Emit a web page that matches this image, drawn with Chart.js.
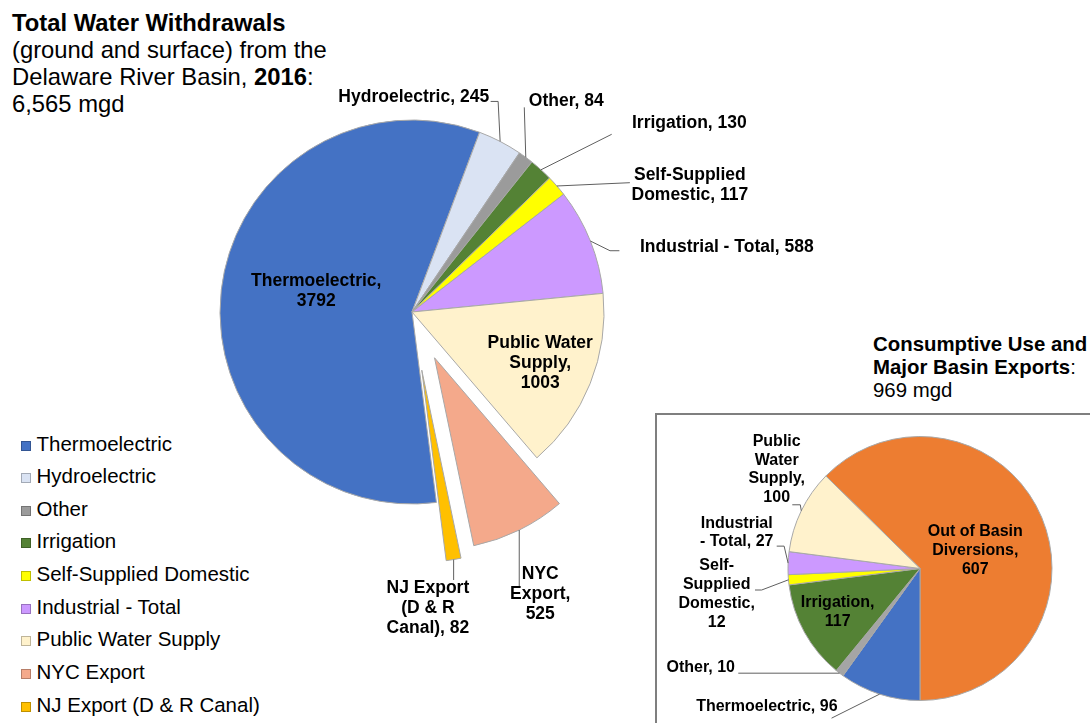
<!DOCTYPE html>
<html>
<head>
<meta charset="utf-8">
<script src="https://cdn.jsdelivr.net/npm/chart.js@4.4.1/dist/chart.umd.min.js"></script>
<style>
  html, body { margin: 0; padding: 0; background: #fff; }
  body { width: 1090px; height: 723px; position: relative; overflow: hidden;
         font-family: 'Liberation Sans', Arial, sans-serif; color: #000; }
  canvas { position: absolute; left: 0; top: 0; }
  .title { position: absolute; white-space: nowrap; }
  #title1 { left: 12px; top: 8.5px; font-size: 23.8px; line-height: 27.2px; }
  #title2 { left: 873px; top: 333px; font-size: 20.4px; line-height: 23px; }
  #box { position: absolute; left: 655px; top: 413px; width: 460px; height: 340px;
         border: 2px solid #7f7f7f; }
  #legend { position: absolute; left: 21px; top: 427.5px; font-size: 20.5px; line-height: 32.65px; white-space: nowrap; }
  #legend span { display: inline-block; width: 10px; height: 10px; box-sizing: border-box;
                 border: 1px solid rgba(0,0,0,0.25); margin-right: 5.5px; }
</style>
</head>
<body>
<div id="box"></div>
<div class="title" id="title1"><b>Total Water Withdrawals</b><br>(ground and surface) from the<br>Delaware River Basin, <b>2016</b>:<br>6,565 mgd</div>
<div class="title" id="title2"><b>Consumptive Use and<br>Major Basin Exports</b>:<br>969 mgd</div>
<div id="legend"></div>
<canvas id="withdrawals" width="1090" height="723"></canvas>
<canvas id="consumptive" width="1090" height="723"></canvas>
<script>
// total withdrawals, mgd
const categories = ['Thermoelectric', 'Hydroelectric', 'Other', 'Irrigation', 'Self-Supplied Domestic',
  'Industrial - Total', 'Public Water Supply', 'NYC Export', 'NJ Export (D & R Canal)'];
const withdrawals = [3792, 245, 84, 130, 117, 588, 1003, 525, 82];
const withdrawalColors = ['#4472C4', '#DAE3F3', '#9B9B9B', '#548235', '#FFFF00', '#CC99FF', '#FFF2CC', '#F4A98B', '#FFC000'];

// consumptive use and major exports, mgd
const useCategories = ['Out of Basin Diversions', 'Thermoelectric', 'Other', 'Irrigation',
  'Self-Supplied Domestic', 'Industrial - Total', 'Public Water Supply'];
const useValues = [607, 96, 10, 117, 12, 27, 100];
const useColors = ['#ED7D31', '#4472C4', '#A5A5A5', '#548235', '#FFFF00', '#CC99FF', '#FFF2CC'];

// pulled-out slices (px)
const withdrawalExplode = [0, 0, 0, 0, 0, 0, 0, 51, 59];

// label placement: wrap = words per line, inside = radius fraction, else leader path from the rim
const withdrawalLabels = [
  { wrap: [1, 1], inside: 0.51, turn: 5.4 },
  { wrap: [2], path: [[-2, -40], [-9.5, -40]], at: [-11, -44], align: 'right' },
  { wrap: [2], path: [[-1.5, -50]], at: [3, -56], align: 'left' },
  { wrap: [2], path: [[70.7, -35.5]], at: [91, -47], align: 'left' },
  { wrap: [2, 2], path: [[73, -3.3]], at: [133, -11], align: 'center' },
  { wrap: [4], path: [[19.6, 9.7], [29, 9.7]], at: [49.6, 5.7], align: 'left' },
  { wrap: [2, 1, 1], inside: 0.72, turn: 0 },
  { wrap: [1, 1, 1], path: [[0, 57]], at: [21, 44], align: 'center' },
  { wrap: [2, 3, 2], path: [[0, 20.5]], at: [-25.7, 28.5], align: 'center' }
];
const useLabels = [
  { wrap: [3, 1, 1], inside: 0.44, turn: 4.9 },
  { wrap: [2], path: [[-48, 24]], at: [-42, 12.5], align: 'right' },
  { wrap: [2], path: [[-101.3, 0]], at: [-104.6, -5.5], align: 'right' },
  { wrap: [1, 1], inside: 0.707, turn: 0.8 },
  { wrap: [1, 1, 1, 1], path: [[-26.8, 10.2], [-33.5, 10.2]], at: [-71.8, -13.8], align: 'center' },
  { wrap: [1, 3], path: [[-4, -17], [-11.4, -17]], at: [-51.4, -39.8], align: 'center' },
  { wrap: [1, 1, 1, 1], path: [[-1, -6], [-9, -6]], at: [-24.6, -69.1], align: 'center' }
];

const FONT = "'Liberation Sans', Arial, sans-serif";

function labelLines(name, value, wrap) {
  const tokens = [];
  (name + ', ' + value).split(' ').forEach(word => {
    word.split(/(?<=-)(?=[A-Za-z])/).forEach((part, k) => tokens.push({ text: part, glue: k > 0 }));
  });
  const lines = [];
  let i = 0;
  wrap.forEach(n => {
    let s = '';
    tokens.slice(i, i + n).forEach((t, k) => { s += (k === 0 || t.glue ? '' : ' ') + t.text; });
    lines.push(s);
    i += n;
  });
  return lines;
}

const explodePlugin = {
  id: 'explode',
  beforeDatasetsDraw(chart, args, opts) {
    const area = chart.chartArea;
    const cx = (area.left + area.right) / 2, cy = (area.top + area.bottom) / 2;
    chart.getDatasetMeta(0).data.forEach((arc, i) => {
      const d = (opts.distances || [])[i] || 0;
      const mid = (arc.startAngle + arc.endAngle) / 2;
      arc.x = cx + Math.cos(mid) * d;
      arc.y = cy + Math.sin(mid) * d;
    });
  }
};

const labelPlugin = {
  id: 'sliceLabels',
  afterDatasetsDraw(chart, args, opts) {
    const ctx = chart.ctx;
    const meta = chart.getDatasetMeta(0);
    const names = chart.data.labels, values = chart.data.datasets[0].data;
    ctx.save();
    ctx.font = 'bold ' + opts.size + 'px ' + FONT;
    ctx.fillStyle = '#000';
    ctx.textBaseline = 'middle';
    opts.layout.forEach((lay, i) => {
      const arc = meta.data[i];
      const lines = labelLines(names[i], values[i], lay.wrap);
      const mid = (arc.startAngle + arc.endAngle) / 2;
      const R = arc.outerRadius;
      if (lay.inside) {
        const a = mid + lay.turn * Math.PI / 180;
        const x = arc.x + Math.cos(a) * R * lay.inside;
        const y0 = arc.y + Math.sin(a) * R * lay.inside - (lines.length - 1) * opts.lineHeight / 2;
        ctx.textAlign = 'center';
        lines.forEach((s, k) => ctx.fillText(s, x, y0 + k * opts.lineHeight));
        return;
      }
      const ex = arc.x + Math.cos(mid) * R, ey = arc.y + Math.sin(mid) * R;
      ctx.strokeStyle = '#5f5f5f';
      ctx.lineWidth = 1;
      ctx.beginPath();
      ctx.moveTo(ex, ey);
      lay.path.forEach(p => ctx.lineTo(ex + p[0], ey + p[1]));
      ctx.stroke();
      ctx.textAlign = lay.align;
      lines.forEach((s, k) => ctx.fillText(s, ex + lay.at[0], ey + lay.at[1] + k * opts.lineHeight));
    });
    ctx.restore();
  }
};

function pieConfig(labels, values, colors, rotation, radius, padding, plugOpts) {
  return {
    type: 'pie',
    data: {
      labels: labels,
      datasets: [{ data: values, backgroundColor: colors, borderColor: '#a8a8a8', borderWidth: 1 }]
    },
    options: {
      responsive: false,
      animation: false,
      rotation: rotation,
      radius: radius,
      layout: { padding: padding },
      events: [],
      plugins: {
        legend: { display: false },
        tooltip: { enabled: false },
        explode: { distances: plugOpts.explode },
        sliceLabels: plugOpts.labels
      }
    },
    plugins: [explodePlugin, labelPlugin]
  };
}

new Chart(document.getElementById('withdrawals'),
  pieConfig(categories, withdrawals, withdrawalColors, 172.7, 192,
    { left: 162, right: 428, top: 62, bottom: 161 },
    { explode: withdrawalExplode, labels: { layout: withdrawalLabels, size: 17.5, lineHeight: 20 } }));

new Chart(document.getElementById('consumptive'),
  pieConfig(useCategories, useValues, useColors, -45.5, 132,
    { left: 820, right: 70, top: 468.5, bottom: 54.5 },
    { explode: [], labels: { layout: useLabels, size: 16, lineHeight: 18.7 } }));

// legend of the withdrawals pie
document.getElementById('legend').innerHTML = categories.map((c, i) =>
  '<div><span style="background:' + withdrawalColors[i] + '"></span>' + c + '</div>').join('');
</script>
</body>
</html>
